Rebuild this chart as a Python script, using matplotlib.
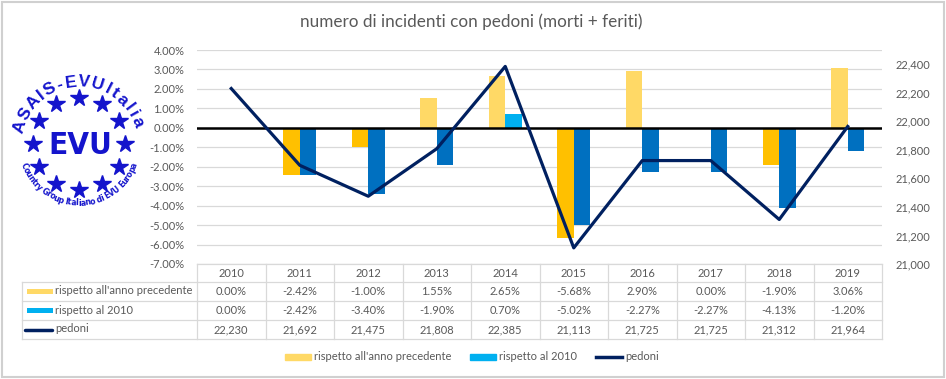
import numpy as np
import matplotlib
matplotlib.use("Agg")
import matplotlib.pyplot as plt
from matplotlib.patches import Patch, Rectangle
from matplotlib.lines import Line2D
from matplotlib.transforms import blended_transform_factory
from matplotlib.textpath import TextToPath
from matplotlib.font_manager import FontProperties

plt.rcParams['font.family'] = ['Lato', 'DejaVu Sans']

# ---------------- data ----------------
years = ['2010', '2011', '2012', '2013', '2014', '2015', '2016', '2017', '2018', '2019']
prev_year = [0.00, -2.42, -1.00, 1.55, 2.65, -5.68, 2.90, 0.00, -1.90, 3.06]
vs_2010 = [0.00, -2.42, -3.40, -1.90, 0.70, -5.02, -2.27, -2.27, -4.13, -1.20]
pedoni = [22230, 21692, 21475, 21808, 22385, 21113, 21725, 21725, 21312, 21964]
series_names = ["rispetto all'anno precedente", "rispetto al 2010", "pedoni"]
title = "numero di incidenti con pedoni (morti + feriti)"

W, H = 946, 379
fig = plt.figure(figsize=(W / 100, H / 100), dpi=100)

def fx(px):
    return px / W

def fy(py):
    return 1 - py / H

TXT = '#595959'
GRID = '#D9D9D9'
Y_POS, Y_NEG = '#FFD966', '#FFC000'
B_POS, B_NEG = '#00B0F0', '#0070C0'
NAVY = '#002060'
FS = 8

# main axes
L, R, T, B = 197, 882, 50, 264
ax = fig.add_axes([fx(L), fy(B), fx(R - L), (B - T) / H])
ax.set_xlim(-0.5, len(years) - 0.5)
ax.set_ylim(-7, 4)
x = np.arange(len(years))
bw = 0.24
ax.bar(x - bw / 2, prev_year, bw, color=[Y_POS if v >= 0 else Y_NEG for v in prev_year], zorder=2)
ax.bar(x + bw / 2, vs_2010, bw, color=[B_POS if v >= 0 else B_NEG for v in vs_2010], zorder=2)
ax.axhline(0, color='black', lw=1.8, zorder=3)
yt = np.arange(-7, 5, 1)
ax.set_yticks(yt)
ax.set_yticklabels([f"{v:.2f}%" for v in yt])
ax.grid(axis='y', color=GRID, lw=0.9, zorder=0)
ax.set_axisbelow(True)
ax.set_xticks([])
for s in ax.spines.values():
    s.set_visible(False)
ax.tick_params(axis='y', length=0, pad=9, labelsize=FS, labelcolor=TXT)

ax2 = ax.twinx()
ax2.plot(x, pedoni, color=NAVY, lw=2.3, zorder=4)
ax2.set_ylim(21000, 22500)
rt = np.arange(21000, 22401, 200)
ax2.set_yticks(rt)
ax2.set_yticklabels([f"{v:,}" for v in rt])
for s in ax2.spines.values():
    s.set_visible(False)
ax2.tick_params(axis='y', length=0, pad=10, labelsize=FS, labelcolor=TXT)
ax2.set_xlim(-0.5, len(years) - 0.5)

# title
fig.text(fx(471), fy(22), title, ha='center', va='center', fontsize=12.3, color=TXT)

# overlay axes in pixel coords
lax = fig.add_axes([0, 0, 1, 1])
lax.set_xlim(0, W)
lax.set_ylim(H, 0)
lax.set_axis_off()

# outer border
lax.add_patch(Rectangle((1.5, 1.5), W - 4, H - 3.5, fill=False, ec='#D0D0D0', lw=1.5))

# ---------------- data table ----------------
bt = blended_transform_factory(ax.transData, lax.transData)
row_lines = [264, 282, 301, 320, 339]
row_mid = [273.5, 291.5, 310.5, 329.5]
tcol = '#D9D9D9'
lax.plot([L, R], [264, 264], color=tcol, lw=0.9)
for yy in row_lines[1:]:
    lax.plot([22, R], [yy, yy], color=tcol, lw=0.9)
lax.plot([22, 22], [282, 339], color=tcol, lw=0.9)
for i in range(len(years) + 1):
    xb = i - 0.5
    lax.plot([xb, xb], [264, 339], color=tcol, lw=0.9, transform=bt)

for i, yr in enumerate(years):
    lax.text(i, row_mid[0], yr, transform=bt, ha='center', va='center', fontsize=FS, color=TXT)
    lax.text(i, row_mid[1], f"{prev_year[i]:.2f}%", transform=bt, ha='center', va='center', fontsize=FS, color=TXT)
    lax.text(i, row_mid[2], f"{vs_2010[i]:.2f}%", transform=bt, ha='center', va='center', fontsize=FS, color=TXT)
    lax.text(i, row_mid[3], f"{pedoni[i]:,}", transform=bt, ha='center', va='center', fontsize=FS, color=TXT)

lax.add_patch(Rectangle((27, row_mid[1] - 2.5), 26, 5, color=Y_POS, lw=0))
lax.add_patch(Rectangle((27, row_mid[2] - 2.5), 26, 5, color=B_POS, lw=0))
lax.plot([25, 52], [row_mid[3], row_mid[3]], color=NAVY, lw=2.5, solid_capstyle='round')
for k, nm in enumerate(series_names):
    lax.text(55, row_mid[k + 1] - 0.5, nm, ha='left', va='center', fontsize=FS, color=TXT)

# ---------------- legend ----------------
handles = [Patch(color=Y_POS), Patch(color=B_POS), Line2D([], [], color=NAVY, lw=2.5)]
fig.legend(handles, series_names, loc='center', bbox_to_anchor=(fx(472), fy(357)), ncol=3,
           frameon=False, fontsize=FS, labelcolor=TXT, handlelength=2.3, handleheight=0.45,
           handletextpad=0.3, columnspacing=1.7)

# ---------------- logo ----------------
LB = '#1414CC'
cx, cy = 79, 144
for k in range(12):
    th = np.deg2rad(90 + 30 * k)
    lax.plot(cx + 46 * np.cos(th), cy - 46 * np.sin(th), marker='*', ms=13, color=LB, mec=LB, ls='none')

lax.text(cx + 1, cy + 1, 'EVU', ha='center', va='center', fontsize=22.5, fontweight='bold',
         fontstretch='condensed', family=['DejaVu Sans', 'Liberation Sans'], color=LB)

ttp = TextToPath()

def arc_text(s, r, th0, th1, fs, outward_tops, family, extra=0.0, stretch='normal'):
    fp = FontProperties(family=family, weight='bold', size=fs, stretch=stretch)
    ws = []
    for ch in s:
        if ch == ' ':
            w = fs * 0.28
        else:
            w = ttp.get_text_width_height_descent(ch, fp, ismath=False)[0]
        ws.append(w + extra)
    ws = np.array(ws)
    tot = ws.sum()
    cum = np.cumsum(ws) - ws / 2
    for ch, c in zip(s, cum):
        th = th0 + (th1 - th0) * c / tot
        rad = np.deg2rad(th)
        px = cx + r * np.cos(rad)
        py = cy - r * np.sin(rad)
        rot = th - 90 if outward_tops else th + 90
        lax.text(px, py, ch, ha='center', va='center', rotation=rot, rotation_mode='anchor',
                 fontsize=fs, fontweight='bold', fontstretch=stretch, family=family, color=LB)

arc_text('ASAIS-EVUItalia', 62, 170, 15, 12.5, True, ['Liberation Sans', 'DejaVu Sans'], extra=3)
arc_text('Country Group Italiano di EVU Europa', 59, 199, 341, 6.2, False,
         ['DejaVu Sans', 'Liberation Sans'], stretch='condensed')

fig.savefig('out.png', dpi=100)
